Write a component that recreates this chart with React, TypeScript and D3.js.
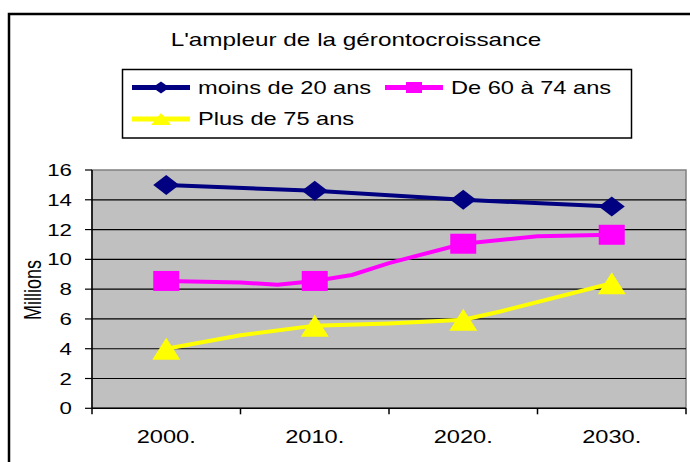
import React from 'react';
import * as d3 from "d3";

// category labels on the x axis (centre of each 10 year band)
const labelYears = [2000, 2010, 2020, 2030];
const xLabels = ["2000.", "2010.", "2020.", "2030."];
const yTicks = [0, 2, 4, 6, 8, 10, 12, 14, 16];

// series (millions)
const moins20Years = [2000, 2010, 2020, 2030];
const moins20Values = [15.0, 14.6, 14.0, 13.55];

const de60Years = [2000, 2005, 2007.5, 2010, 2012.5, 2015, 2020, 2025, 2030];
const de60Values = [8.55, 8.45, 8.3, 8.55, 8.95, 9.75, 11.05, 11.55, 11.65];

const plus75Years = [2000, 2005, 2010, 2015, 2020, 2022.5, 2030];
const plus75Values = [4.0, 4.9, 5.55, 5.7, 5.95, 6.5, 8.4];

const title = "L'ampleur de la gérontocroissance";
const yTitle = "Millions";

const FONT = "'Liberation Sans', Arial, sans-serif";
const SX = 1.35; // the picture is stretched sideways

const diamond = (w, h) => `M0,${-h}L${w},0L0,${h}L${-w},0Z`;
const square = (w, h) => `M${-w},${-h}H${w}V${h}H${-w}Z`;
const triangle = (w, h) => `M0,${-h}L${w},${h}L${-w},${h}Z`;

export default class App extends React.Component<any> {
  node: any;
  constructor(props) {
    super(props)
    this.createChart = this.createChart.bind(this)
  }
  componentDidMount() {
    this.createChart()
  }
  componentDidUpdate() {
    this.createChart()
  }

  createChart() {
    const svg = d3.select(this.node);
    svg.selectAll("*").remove();

    const plot = {left: 92, right: 686, top: 170, bottom: 408.3};

    const x = d3.scaleLinear().domain([1995, 2035]).range([plot.left, plot.right]);
    const y = d3.scaleLinear().domain([0, 16]).range([plot.bottom, plot.top]);

    const series = [
      {name: "moins de 20 ans", color: "#000080", years: moins20Years, values: moins20Values, shape: diamond, big: [13, 10], small: [8.5, 6]},
      {name: "De 60 à 74 ans", color: "#FF00FF", years: de60Years, values: de60Values, shape: square, big: [13, 10], small: [8, 5.5]},
      {name: "Plus de 75 ans", color: "#FFFF00", years: plus75Years, values: plus75Values, shape: triangle, big: [14, 11], small: [10, 6]},
    ];

    // helper for stretched text
    const text = (g, tx, ty, str, size, anchor, rotate = 0) =>
      g.append("text")
        .attr("transform", `translate(${tx},${ty}) scale(${SX},1)` + (rotate ? ` rotate(${rotate})` : ""))
        .attr("text-anchor", anchor)
        .attr("font-family", FONT)
        .attr("font-size", size)
        .attr("fill", "#000")
        .text(str);

    // outer frame
    svg.append("rect")
      .attr("x", 9).attr("y", 14)
      .attr("width", 720).attr("height", 480)
      .attr("fill", "#fff")
      .attr("stroke", "#000")
      .attr("stroke-width", 2.5);

    text(svg, 356, 46, title, 18, "middle");

    // legend
    const legend = svg.append("g");
    legend.append("rect")
      .attr("x", 122.5).attr("y", 69.5)
      .attr("width", 509).attr("height", 68.5)
      .attr("fill", "#fff")
      .attr("stroke", "#000")
      .attr("stroke-width", 1.5);
    const legendPos = [[132, 87.5], [385, 87.5], [132, 119]];
    series.forEach((s, i) => {
      const [lx, ly] = legendPos[i];
      legend.append("line")
        .attr("x1", lx).attr("x2", lx + 58)
        .attr("y1", ly).attr("y2", ly)
        .attr("stroke", s.color)
        .attr("stroke-width", 5);
      legend.append("path")
        .attr("transform", `translate(${lx + 29},${ly})`)
        .attr("d", s.shape(s.small[0], s.small[1]))
        .attr("fill", s.color);
      text(legend, lx + 66, ly + 6.3, s.name, 17.5, "start");
    });

    // plot area
    svg.append("rect")
      .attr("x", plot.left).attr("y", plot.top)
      .attr("width", plot.right - plot.left)
      .attr("height", plot.bottom - plot.top)
      .attr("fill", "#C0C0C0")
      .attr("stroke", "#808080")
      .attr("stroke-width", 1.5);

    // gridlines
    svg.append("g").selectAll("line")
      .data(yTicks.filter(t => t > 0 && t < 16))
      .enter().append("line")
      .attr("x1", plot.left).attr("x2", plot.right)
      .attr("y1", d => y(d)).attr("y2", d => y(d))
      .attr("stroke", "#000")
      .attr("stroke-width", 1.2);

    // y axis
    const yAxis = svg.append("g");
    yAxis.append("line")
      .attr("x1", plot.left).attr("x2", plot.left)
      .attr("y1", plot.top).attr("y2", plot.bottom)
      .attr("stroke", "#000").attr("stroke-width", 1.5);
    yTicks.forEach(t => {
      yAxis.append("line")
        .attr("x1", plot.left - 7).attr("x2", plot.left)
        .attr("y1", y(t)).attr("y2", y(t))
        .attr("stroke", "#000").attr("stroke-width", 1.2);
      text(yAxis, 72, y(t) + 6, String(t), 16.5, "end");
    });
    text(svg, 41, 290, yTitle, 18, "middle", -90);

    // x axis: ticks sit between the 10 year bands
    const xAxis = svg.append("g");
    xAxis.append("line")
      .attr("x1", plot.left).attr("x2", plot.right)
      .attr("y1", plot.bottom).attr("y2", plot.bottom)
      .attr("stroke", "#000").attr("stroke-width", 1.5);
    d3.range(1995, 2036, 10).forEach(t => {
      xAxis.append("line")
        .attr("x1", x(t)).attr("x2", x(t))
        .attr("y1", plot.bottom).attr("y2", plot.bottom + 6)
        .attr("stroke", "#000").attr("stroke-width", 1.5);
    });
    labelYears.forEach((yr, i) => {
      text(xAxis, x(yr), 442.5, xLabels[i], 17.5, "middle");
    });

    // series lines and markers
    const line = d3.line<any>()
      .x(d => x(d[0]))
      .y(d => y(d[1]));

    series.forEach(s => {
      const pts = s.years.map((yr, i) => [yr, s.values[i]]);
      svg.append("path")
        .datum(pts)
        .attr("d", line)
        .attr("fill", "none")
        .attr("stroke", s.color)
        .attr("stroke-width", 4)
        .attr("stroke-linejoin", "round");
      svg.append("g").selectAll("path")
        .data(pts.filter(p => labelYears.indexOf(p[0]) >= 0))
        .enter().append("path")
        .attr("transform", d => `translate(${x(d[0])},${y(d[1])})`)
        .attr("d", s.shape(s.big[0], s.big[1]))
        .attr("fill", s.color);
    });
  }

  render() {
    return (
      <svg width={690} height={462}
        style={{position: "absolute", left: 0, top: 0, background: "#fff"}}
        ref={node => { this.node = node; }} />
    )
  }
}
